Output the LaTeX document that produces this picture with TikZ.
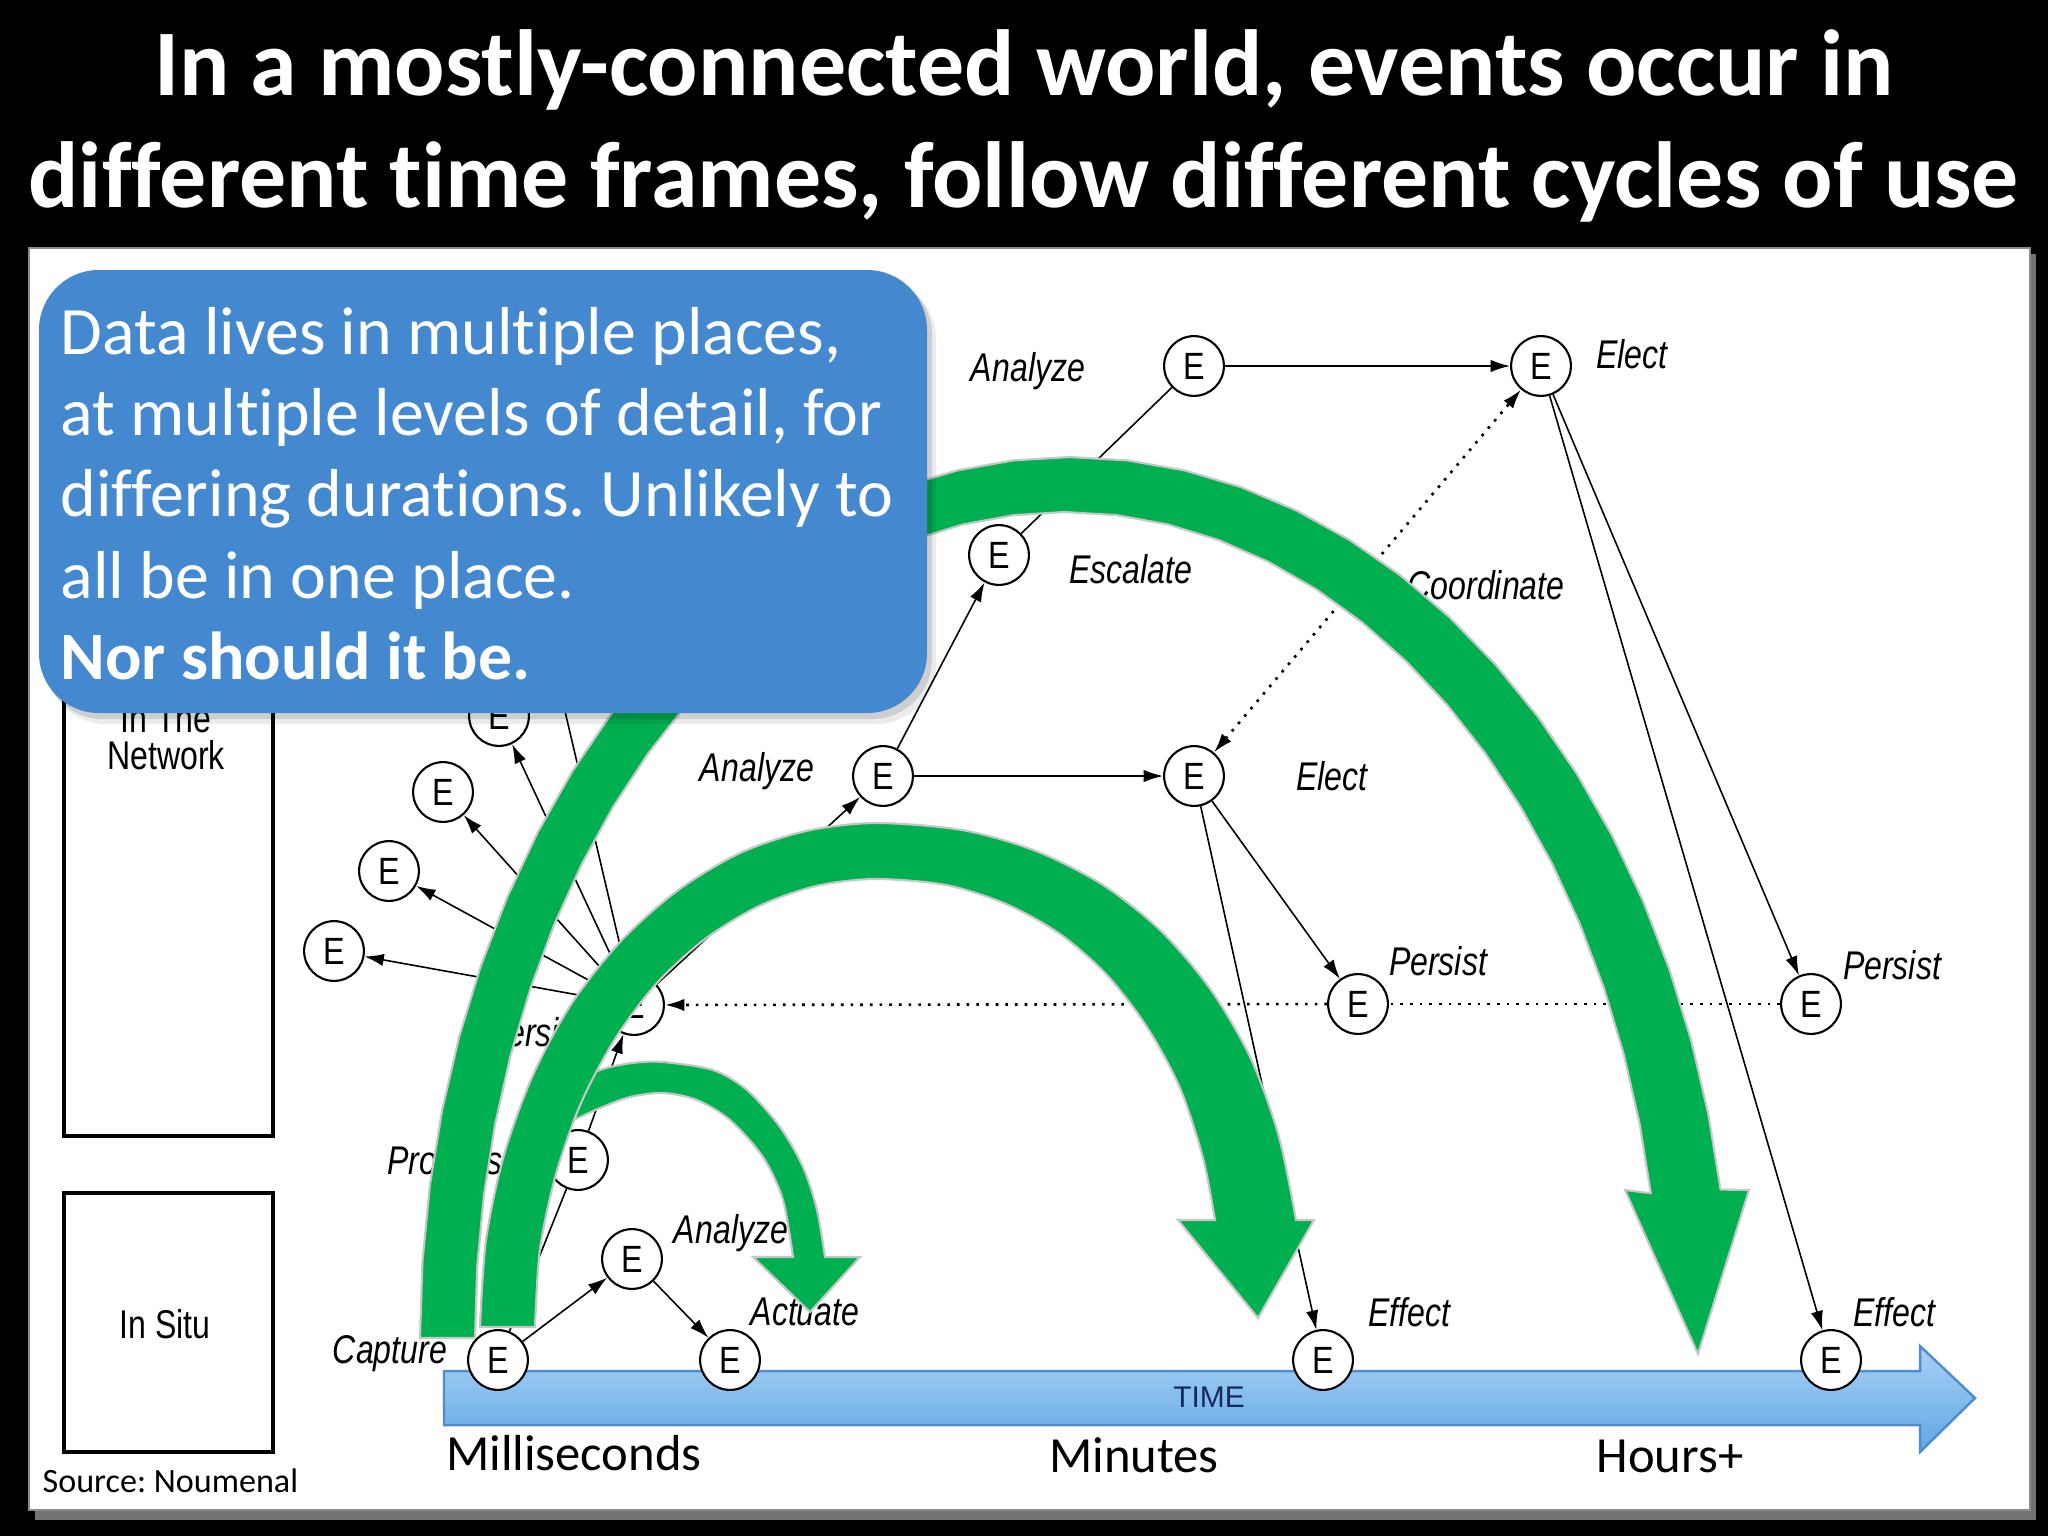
\documentclass[tikz,border=0pt]{standalone}
\usepackage{fontspec}
\usepackage{graphicx}
\setmainfont{Carlito}[Ligatures={NoCommon}]
\newfontfamily\diagfont{Liberation Sans}[Ligatures={NoCommon}]
\usetikzlibrary{arrows.meta}
\definecolor{grn}{RGB}{0,176,80}
\definecolor{callblue}{RGB}{68,137,207}
\definecolor{timetop}{RGB}{168,210,245}
\definecolor{timebot}{RGB}{96,166,228}
\definecolor{timeedge}{RGB}{78,142,208}
\definecolor{timetext}{RGB}{22,42,92}
\newcommand\sqz[1]{\scalebox{0.8}[1]{#1}}
\newcommand\ee{\scalebox{0.85}[1]{E}}
\frenchspacing
\begin{document}
\begin{tikzpicture}[x=0.01cm,y=-0.01cm,
 >={Latex[length=5.5pt,width=3.5pt]},
 enode/.style={circle,draw=black,line width=0.6pt,fill=white,minimum size=17pt,inner sep=0pt,font=\diagfont\fontsize{10.8}{12}\selectfont},
 lab/.style={anchor=base,inner sep=0pt,font=\diagfont\itshape\fontsize{11.4}{13}\selectfont},
 boxlab/.style={anchor=base,inner sep=0pt,font=\diagfont\fontsize{11.4}{13}\selectfont},
 conn/.style={line width=0.45pt,->},
 plainline/.style={line width=0.45pt},
 dotline/.style={line width=0.75pt,dash pattern=on 0.75pt off 2pt},
 garrow/.style={fill=grn,draw=black!22,line width=0.6pt},
 zone/.style={draw=black,line width=0.9pt},
 calltext/.style={anchor=base west,inner sep=0pt,text=white,font=\fontsize{19.3}{23}\selectfont},
 scalelab/.style={anchor=base,inner sep=0pt,font=\fontsize{14.4}{17}\selectfont},
 titletext/.style={anchor=base,inner sep=0pt,text=white,font=\bfseries\fontsize{26.7}{32}\selectfont}
]
\useasboundingbox (0,0) rectangle (2048,1536);
\fill[black] (0,0) rectangle (2048,1536);
% panel
\fill[black!55] (35,254) rectangle (2036,1520);
\fill[white,draw=black!45,line width=0.8pt] (29,248) rectangle (2030,1510);

% zones
\draw[zone] (64,345) rectangle (273,1136);
\draw[zone] (64,1193) rectangle (273,1452);
\node[boxlab] (inthe) at (166,732) {\sqz{In The}};
\node[boxlab] (network) at (166,769) {\sqz{Network}};
\node[boxlab] (insitu) at (165,1338) {\sqz{In Situ}};

% time arrow
\shade[top color=timetop,bottom color=timebot,draw=timeedge,line width=0.7pt]
  (444,1371) -- (1920,1371) -- (1920,1346) -- (1975,1398) -- (1920,1452) -- (1920,1425) -- (444,1425) -- cycle;
\node[anchor=base,inner sep=0pt,text=timetext,font=\diagfont\fontsize{8.5}{10}\selectfont] (time) at (1209,1407) {TIME};

% event nodes
\node[enode] (aTop) at (1194,366) {\ee};
\node[enode] (elTop) at (1541,366) {\ee};
\node[enode] (esc) at (999,555) {\ee};
\node[enode] (anMid) at (883,776) {\ee};
\node[enode] (elMid) at (1194,776) {\ee};
\node[enode] (peMid) at (1358,1004) {\ee};
\node[enode] (peR) at (1811,1004) {\ee};
\node[enode] (hub) at (634,1005) {\ee};
\node[enode] (f1) at (334,951) {\ee};
\node[enode] (f2) at (389,871) {\ee};
\node[enode] (f3) at (443,792) {\ee};
\node[enode] (f4) at (499,716) {\ee};
\node[enode] (proc) at (578,1160) {\ee};
\node[enode] (anLow) at (632,1259) {\ee};
\node[enode] (cap) at (498,1360) {\ee};
\node[enode] (act) at (730,1360) {\ee};
\node[enode] (efMid) at (1323,1360) {\ee};
\node[enode] (efR) at (1831,1360) {\ee};
\coordinate (upend) at (560,690);

% connectors
\draw[conn] (aTop) -- (elTop);
\draw[plainline] (esc) -- (aTop);
\draw[conn] (anMid) -- (esc);
\draw[conn] (anMid) -- (elMid);
\draw[dotline,<->] (elMid) -- (elTop);
\draw[conn] (elMid) -- (peMid);
\draw[conn] (elMid) -- (efMid);
\draw[conn] (elTop) -- (peR);
\draw[conn] (elTop) -- (efR);
\draw[dotline] (peR) -- (peMid);
\draw[dotline,->] (peMid) -- (hub);
\draw[conn] (hub) -- (f1);
\draw[conn] (hub) -- (f2);
\draw[conn] (hub) -- (f3);
\draw[conn] (hub) -- (f4);
\draw[plainline] (hub) -- (upend);
\draw[conn] (hub) -- (anMid);
\draw[plainline] (cap) -- (proc);
\draw[conn] (proc) -- (hub);
\draw[conn] (cap) -- (anLow);
\draw[conn] (anLow) -- (act);

% labels
\node[lab] (lAnTop) at (1028,381) {\sqz{Analyze}};
\node[lab] (lElTop) at (1632,368) {\sqz{Elect}};
\node[lab] (lEsc) at (1131,583) {\sqz{Escalate}};
\node[lab] (lCoord) at (1486,599) {\sqz{Coordinate}};
\node[lab] (lAnMid) at (757,781) {\sqz{Analyze}};
\node[lab] (lElMid) at (1332,790) {\sqz{Elect}};
\node[lab] (lPeMid) at (1438,975) {\sqz{Persist}};
\node[lab] (lPeR) at (1892,979) {\sqz{Persist}};
\node[lab] (lPeHub) at (535,1046) {\sqz{Persist}};
\node[lab] (lProc) at (445,1174) {\sqz{Process}};
\node[lab] (lAnLow) at (731,1243) {\sqz{Analyze}};
\node[lab] (lCap) at (390,1363) {\sqz{Capture}};
\node[lab] (lAct) at (805,1325) {\sqz{Actuate}};
\node[lab] (lEfMid) at (1409,1326) {\sqz{Effect}};
\node[lab] (lEfR) at (1894,1326) {\sqz{Effect}};

% green arrows
\path[garrow] plot[domain=180:90,samples=19] ({1070+650*cos(\x)},{1338-881*sin(\x)})
  -- plot[domain=90:9.7,samples=17] ({1070+660*cos(\x)},{1338-881*sin(\x)})
  -- (1749,1190) -- (1698,1354) -- (1625,1190)
  -- plot[domain=10.1:90,samples=17] ({1065+595*cos(\x)},{1338-826*sin(\x)})
  -- plot[domain=90:180,samples=19] ({1065+590*cos(\x)},{1338-826*sin(\x)})
  -- cycle;
\path[garrow] plot[smooth] coordinates {(555,1090) (600,1070) (632,1063) (663,1062) (713,1070) (747,1090) (780,1127) (803,1167) (817,1210) (825,1257)}
  -- (860,1257) -- (810,1312) -- (753,1257)
  -- plot[smooth] coordinates {(793,1257) (783,1200) (763,1157) (730,1120) (697,1100) (663,1093) (630,1097) (600,1108) (578,1118) (555,1128)}
  -- cycle;
\path[garrow] plot[smooth] coordinates {(480,1327) (486,1240) (504,1155) (533,1075) (572,1003) (621,941) (677,891) (740,853) (806,831) (875,823) (962,830) (1036,851) (1103,885) (1161,931) (1211,990) (1251,1059) (1279,1137) (1296,1220)}
  -- (1314,1220) -- (1258,1318) -- (1178,1220)
  -- plot[smooth] coordinates {(1215,1220) (1203,1158) (1180,1088) (1147,1027) (1107,975) (1060,934) (1006,904) (946,885) (875,879) (816,886) (759,906) (705,939) (656,984) (615,1039) (581,1103) (556,1174) (540,1249) (535,1327)}
  -- cycle;

% callout
\fill[black,opacity=0.08,rounded corners=17pt] (46,279) rectangle (936,724);
\fill[black,opacity=0.12,rounded corners=17pt] (43,275) rectangle (932,719);
\fill[callblue,rounded corners=17pt] (39,270) rectangle (927,713);
\node[calltext] (c1) at (60,354) {Data lives in multiple places,};
\node[calltext] (c2) at (60,435) {at multiple levels of detail, for};
\node[calltext] (c3) at (60,516) {differing durations. Unlikely to};
\node[calltext] (c4) at (60,598) {all be in one place.};
\node[calltext,font=\bfseries\fontsize{19.3}{23}\selectfont] (c5) at (60,679) {Nor should it be.};

% title
\node[titletext] (t1) at (1024,95) {In a mostly-connected world, events occur in};
\node[titletext] (t2) at (1024,207) {different time frames, follow different cycles of use};

% scale labels
\node[scalelab] (ms) at (574,1470) {Milliseconds};
\node[scalelab] (mins) at (1134,1472) {Minutes};
\node[scalelab] (hrs) at (1670,1472) {Hours+};
\node[anchor=base west,inner sep=0pt,font=\fontsize{9.7}{12}\selectfont] (src) at (42,1492) {Source: Noumenal};
\end{tikzpicture}
\end{document}
